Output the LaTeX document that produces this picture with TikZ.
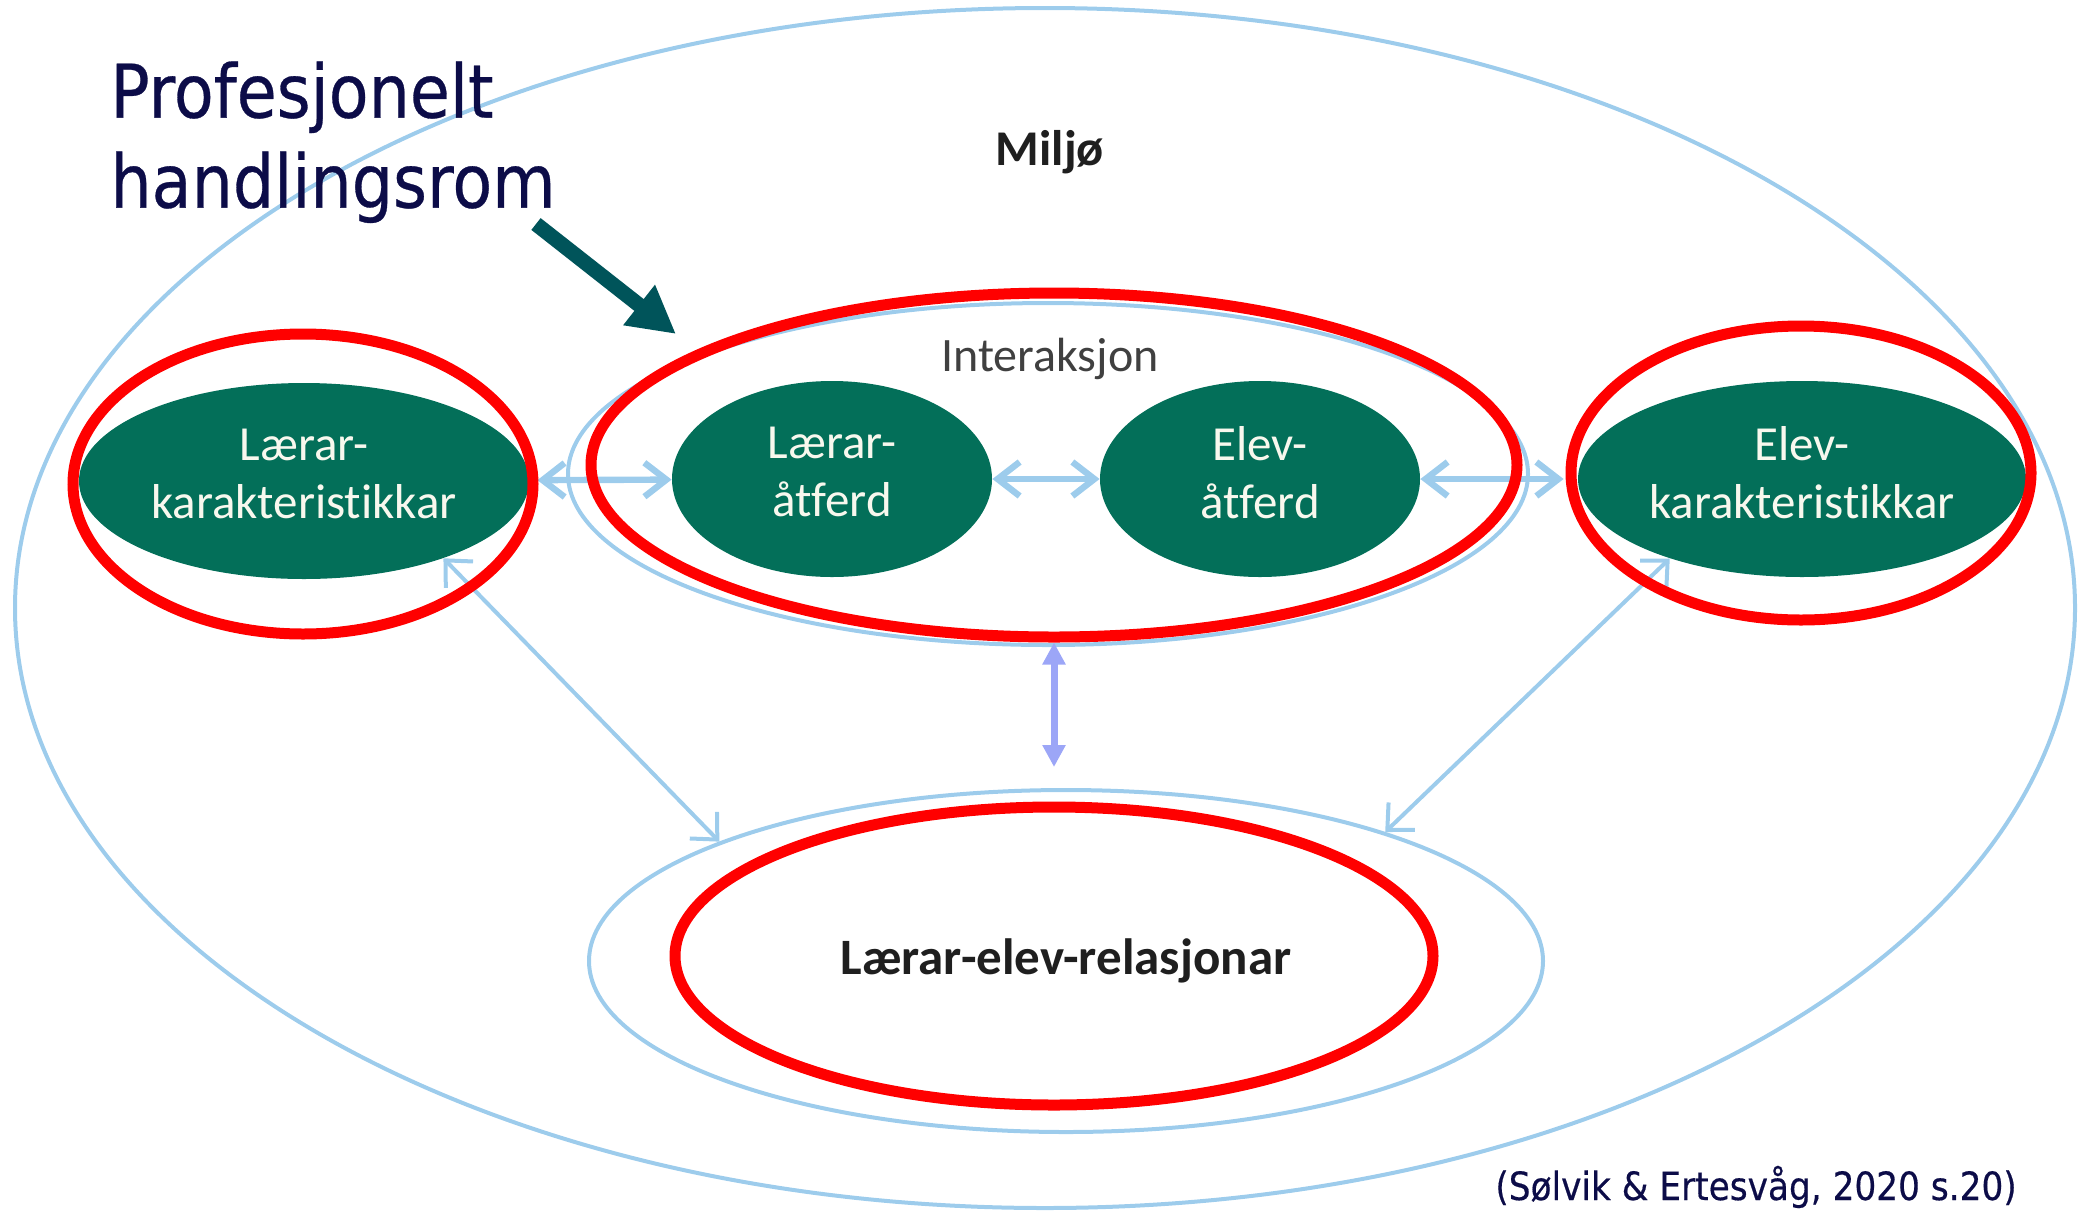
\documentclass[tikz,border=0pt]{standalone}
\usepackage{fontspec}
\setmainfont{Carlito}[Ligatures=NoCommon]
\newfontfamily\titlefont[FakeStretch=0.88,FakeBold=0.4]{DejaVu Sans}
\usetikzlibrary{shapes.geometric,arrows.meta}
\definecolor{skyline}{RGB}{157,204,236}
\definecolor{ringred}{RGB}{255,0,0}
\definecolor{leafgreen}{RGB}{3,111,89}
\definecolor{navytext}{RGB}{12,12,72}
\definecolor{tealarrow}{RGB}{0,84,90}
\definecolor{periwinkle}{RGB}{156,166,247}
\definecolor{creamtext}{RGB}{248,248,238}
\newcommand{\lowpad}{\rule[-7pt]{0pt}{0pt}}

\begin{document}
\begin{tikzpicture}[x=0.5pt, y=-0.5pt,
    blob/.style={ellipse, fill=leafgreen, text=creamtext, inner sep=0pt, align=center,
        font=\fontsize{24.5pt}{29pt}\selectfont},
    halo/.style={ellipse, draw=skyline, line width=2pt, inner sep=0pt},
    ring/.style={ellipse, draw=ringred, line width=5.5pt, inner sep=0pt},
    link/.style={draw=skyline, line width=3.2pt,
        {Straight Barb[length=11pt,width=17pt]}-{Straight Barb[length=11pt,width=17pt]}},
    spoke/.style={draw=skyline, line width=2pt,
        {Straight Barb[length=10pt,width=19pt]}-{Straight Barb[length=10pt,width=19pt]}},
    bond/.style={draw=periwinkle, line width=3.5pt,
        {Triangle[length=11pt,width=11pt]}-{Triangle[length=11pt,width=11pt]}},
    pointer/.style={draw=tealarrow, line width=7.5pt, -{Triangle[length=23.5pt,width=24pt]}}]
    \useasboundingbox (0,0) rectangle (2087,1211);
% Environment
    \node[halo, minimum width=1030pt, minimum height=600pt] (miljo) at (1045,608) {};
    \node[anchor=base, text=black!88, font=\bfseries\fontsize{25pt}{30pt}\selectfont] (miljolabel) at (1050,165) {Miljø};
% Interaction
    \node[halo, minimum width=480pt, minimum height=171pt] (ia) at (1048,474) {};
    \node[anchor=base, text=black!75, font=\fontsize{24pt}{29pt}\selectfont] (ialabel) at (1050,371) {Interaksjon};
    \node[blob, minimum width=225pt, minimum height=98pt] (lk) at (304,481) {Lærar-\\karakteristikkar\lowpad};
    \node[blob, minimum width=160pt, minimum height=98pt] (la) at (832,479) {Lærar-\\åtferd\lowpad};
    \node[blob, minimum width=160pt, minimum height=98pt] (ea) at (1260,479) {Elev-\\åtferd\lowpad};
    \node[blob, minimum width=224pt, minimum height=98pt] (ek) at (1802,479) {Elev-\\karakteristikkar\lowpad};
% Relation
    \node[halo, minimum width=477pt, minimum height=171pt, text=black!88,
        font=\bfseries\fontsize{25.5pt}{30pt}\selectfont] (rel) at (1066,961) {Lærar-elev-relasjonar};
% Arrows
    \draw[link, shorten <=4pt] (lk) -- (la);
    \draw[link] (la) -- (ea);
    \draw[link, shorten >=7pt] (ea) -- (ek);
    \draw[spoke] (lk.-29) -- (rel.161);
    \draw[spoke] (ek.-149) -- (rel.22);
% Red marks
    \node[ring, minimum width=230pt, minimum height=150pt] (lkring) at (303,484) {};
    \node[ring, minimum width=230pt, minimum height=147pt] (ekring) at (1801,473) {};
    \node[ring, minimum width=463pt, minimum height=172pt] (iaring) at (1054,465) {};
    \node[ring, minimum width=379pt, minimum height=149pt] (relring) at (1054,956) {};
    \draw[bond, shorten >=10.5pt] (iaring.south) -- (iaring.south |- rel.north);
% Title and source
    \node[anchor=north west, inner sep=0pt, align=left, text=navytext,
        font=\titlefont\fontsize{37pt}{45pt}\selectfont] (title) at (110,61) {Profesjonelt\\handlingsrom};
    \coordinate (ptail) at (536,224);
    \coordinate (ptip) at (676,334);
    \draw[pointer] (ptail) -- (ptip);
    \node[anchor=base west, inner sep=0pt, text=navytext,
        font=\titlefont\fontsize{19.5pt}{23pt}\selectfont] (source) at (1495,1200) {(Sølvik \& Ertesvåg, 2020 s.20)};
\end{tikzpicture}
\end{document}
